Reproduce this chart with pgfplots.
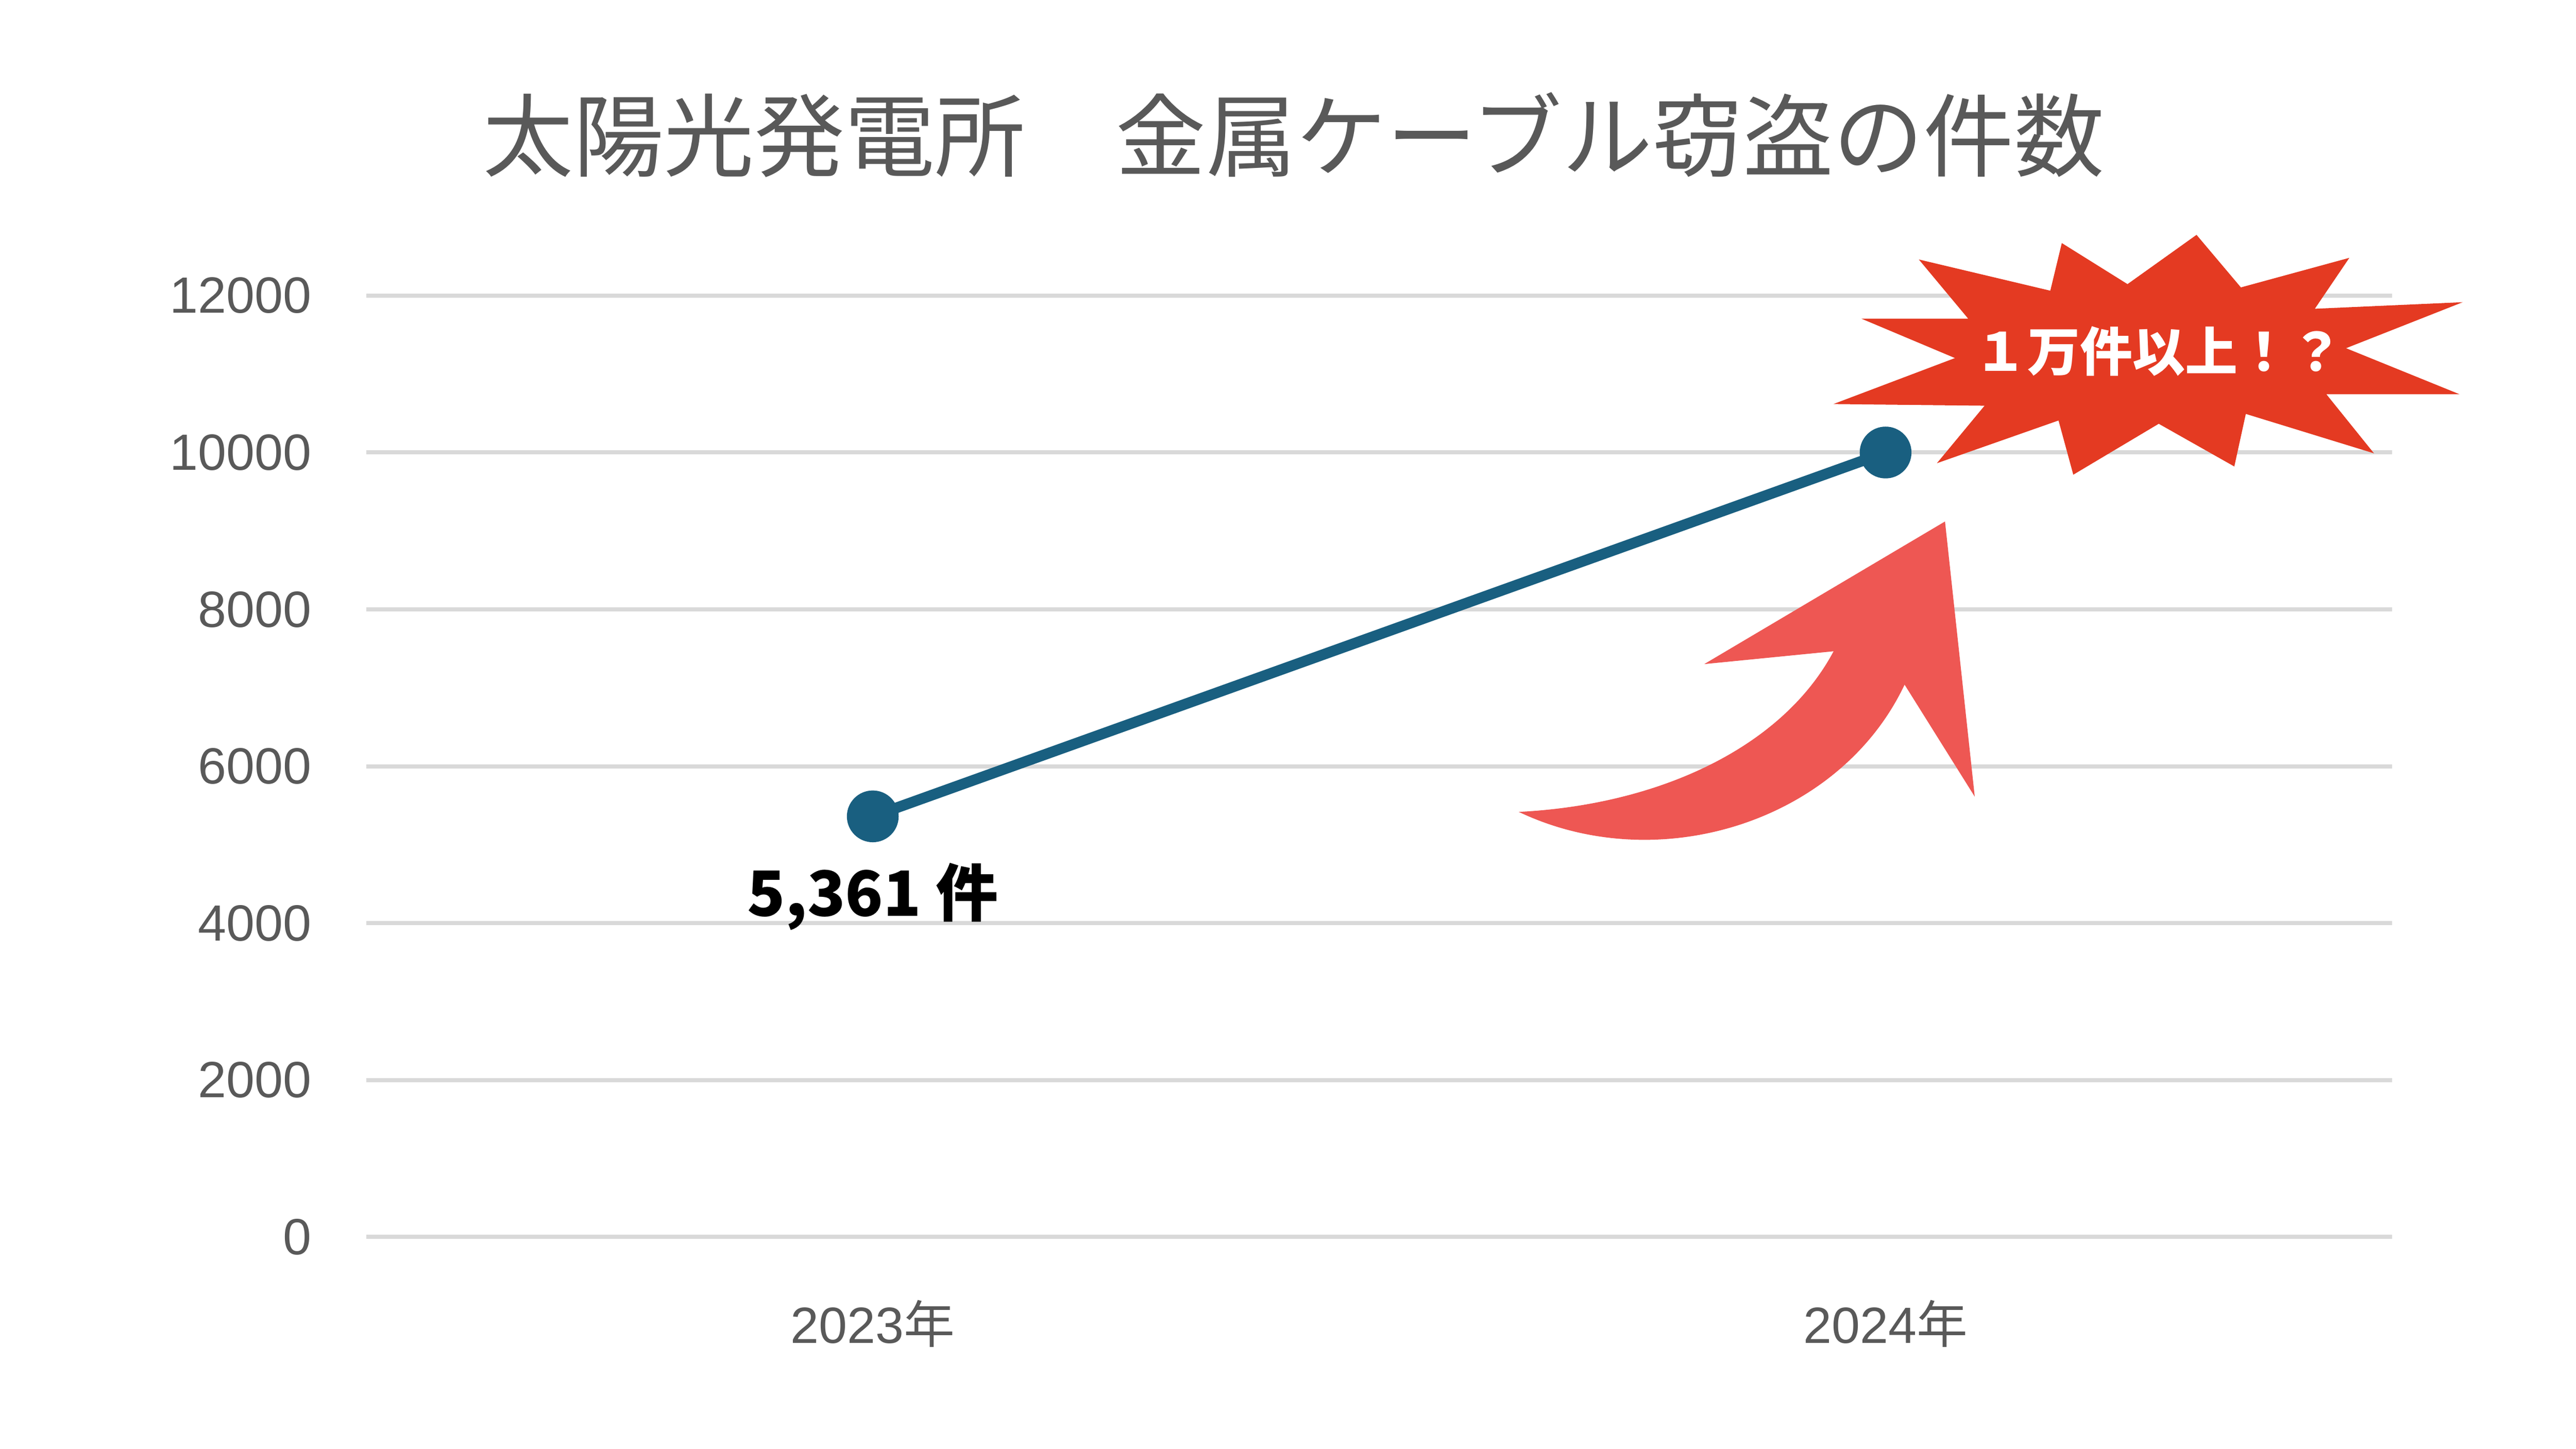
\documentclass[border=0pt]{standalone}
\usepackage{pgfplots}
\pgfplotsset{compat=1.18}
\usepackage{fontspec}
\setmainfont{Liberation Sans}
\newfontfamily\cjk{Noto Sans CJK JP}
\definecolor{txtgray}{HTML}{595959}
\definecolor{gridgray}{HTML}{D9D9D9}
\definecolor{linecol}{HTML}{195F80}
\definecolor{burstred}{HTML}{E43A22}
\definecolor{arrowred}{HTML}{EE5753}
\begin{document}
\begin{tikzpicture}
\path[fill=white,use as bounding box] (0,0) rectangle (784pt,441pt);
\begin{axis}[
    at={(111.5pt,64.5pt)}, anchor=south west,
    scale only axis, width=616.5pt, height=286.5pt,
    xmin=-0.5, xmax=1.5, ymin=0, ymax=12000,
    xtick={0,1}, xticklabels={2023{\cjk 年},2024{\cjk 年}},
    ytick={0,2000,...,12000},
    scaled y ticks=false,
    axis line style={draw=none},
    major tick length=0pt,
    ymajorgrids, grid style={gridgray,line width=1.25pt},
    /pgf/number format/assume math mode=true,
    /pgf/number format/fixed,
    /pgf/number format/set thousands separator={},
    tick label style={font=\fontsize{15.5}{18}\selectfont, text=txtgray, inner sep=0pt},
    yticklabel shift=16.5pt,
    xticklabel shift=19pt,
    clip=false,
]
\addplot[color=linecol, line width=3.25pt, mark=*, mark size=6.25pt,
    mark options={fill=linecol, draw=none}] coordinates {(0,5361) (1,10000)};
\node[font=\cjk\bfseries\fontsize{19}{22}\selectfont, text=black]
    at (axis cs:0,5361) [yshift=-24.5pt] {5,361 件};
\end{axis}
\begin{scope}[shift={(0,441pt)}, x=0.5pt, y=-0.5pt]
% curved arrow
\fill[arrowred] (924.5,494.3) .. controls (1010,490) and (1085,455) .. (1116.1,396.5)
    -- (1037.4,404.3) -- (1183.9,317.5) -- (1202,485) -- (1159.3,416.8)
    .. controls (1120,500) and (1010,535) .. cycle;
% starburst
\fill[burstred] (1337,143) -- (1364,175) -- (1430,157) -- (1409,188) -- (1499,184)
    -- (1428,212) -- (1497,240) -- (1416,240) -- (1445,276) -- (1367,252)
    -- (1360,284) -- (1314,258) -- (1262,289) -- (1253,256) -- (1179,282)
    -- (1208,247) -- (1116,246) -- (1190,218) -- (1133,194) -- (1198,194)
    -- (1168,158) -- (1248,177) -- (1255,148) -- (1295,173) -- cycle;
\node[font=\cjk\bfseries\fontsize{16}{18}\selectfont, text=white] at (1314,214) {１万件以上！？};
% title
\node[font=\cjk\fontsize{27.5}{30}\selectfont, text=txtgray] at (787.5,82) {太陽光発電所　金属ケーブル窃盗の件数};
\end{scope}
\end{tikzpicture}
\end{document}
